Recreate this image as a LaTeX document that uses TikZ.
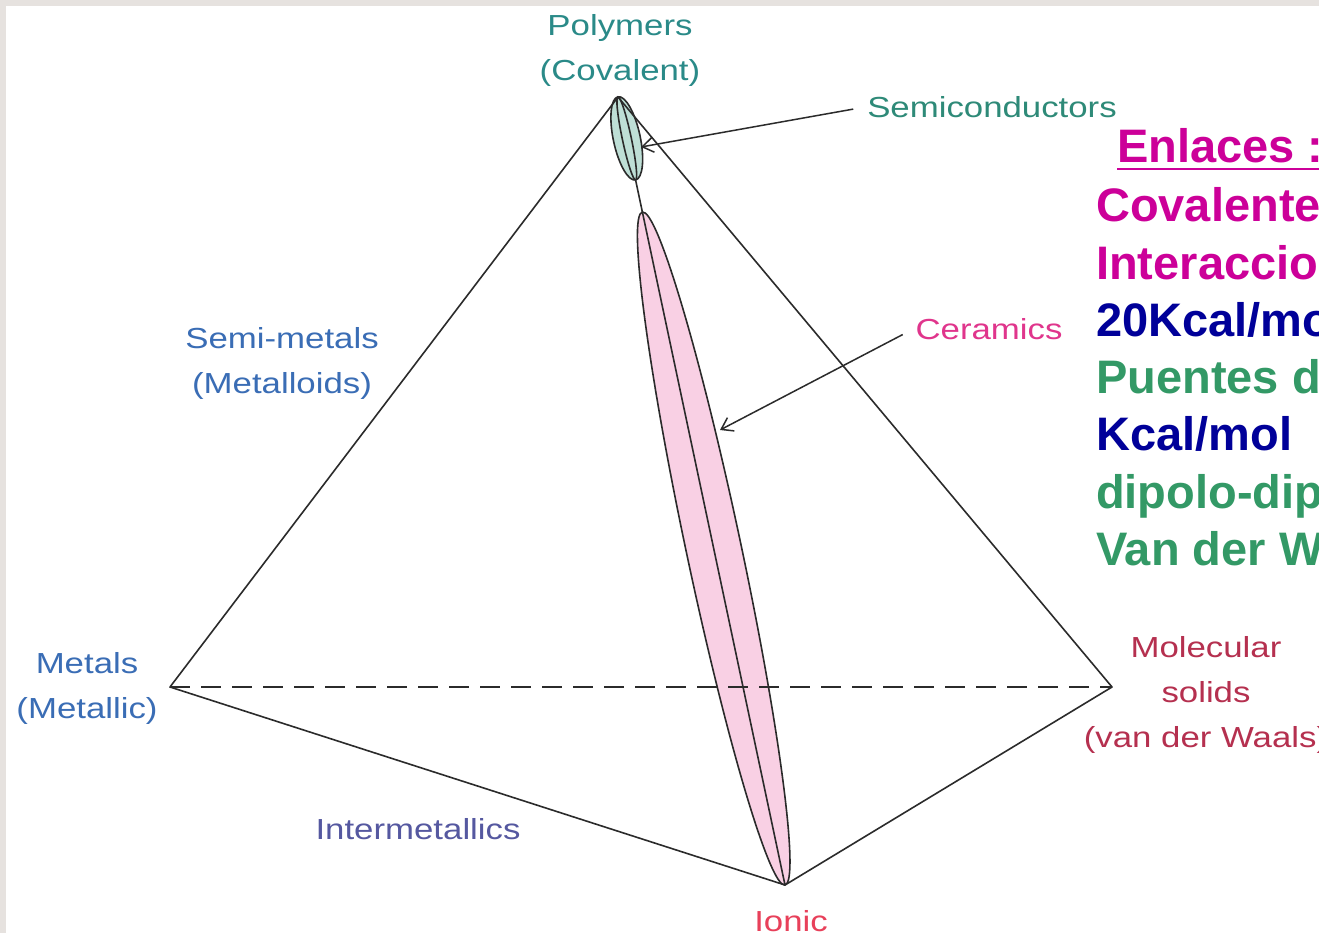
\documentclass[tikz,border=0pt]{standalone}
\usepackage{fontspec}
\usetikzlibrary{arrows.meta,calc}
\newfontfamily\labelfont[FakeStretch=1.2]{Liberation Sans}
\newfontfamily\enlfont{Liberation Sans}
\definecolor{bordergray}{HTML}{E6E2DF}
\definecolor{edgegray}{HTML}{2B2B2B}
\definecolor{semfill}{HTML}{BEDFD6}
\definecolor{cerfill}{HTML}{F9D0E4}
\definecolor{polycol}{HTML}{2A8A88}
\definecolor{semcol}{HTML}{2E8A78}
\definecolor{metcol}{HTML}{3A6DB5}
\definecolor{intcol}{HTML}{5558A0}
\definecolor{molcol}{HTML}{B5304F}
\definecolor{ioncol}{HTML}{E8405A}
\definecolor{cercol}{HTML}{E0358C}
\definecolor{enlmag}{HTML}{CC0099}
\definecolor{enlblue}{HTML}{000099}
\definecolor{enlgreen}{HTML}{339966}
\tikzset{
	edge/.style={draw=edgegray, line width=1.6pt},
	hidden/.style={edge, dash pattern=on 20pt off 11pt},
	lens/.style={draw=edgegray, line width=1.6pt},
	pointer/.style={draw=edgegray, line width=1.5pt, -{Straight Barb[length=11pt,width=15pt]}, shorten <=12pt},
	lbl/.style={font=\labelfont\fontsize{29}{45}\selectfont, align=center, inner sep=2pt},
	rtext/.style={font=\enlfont\bfseries\fontsize{47}{57}\selectfont, anchor=base west, inner sep=0pt}
}
\begin{document}
\begin{tikzpicture}[x=1pt,y=-1pt]
		
		\clip (0,0) rectangle (1319,933);
		\fill[white] (0,0) rectangle (1319,933);
		\fill[bordergray] (0,0) rectangle (1319,6);
		\fill[bordergray] (0,0) rectangle (6,933);
		
		% corners of the tetrahedron
		\coordinate (poly) at (618,97);
		\coordinate (metal) at (170,687);
		\coordinate (mol) at (1112,687);
		\coordinate (ionic) at (785,885);
		
		\coordinate (semc) at ($(poly)!0.0525!(ionic)$);
		\coordinate (semend) at ($(poly)!0.105!(ionic)$);
		\coordinate (cerc) at ($(poly)!0.573!(ionic)$);
		\coordinate (semtip) at (641,147);
		\coordinate (certip) at (720,430);
		
		% semiconductors lens
		\begin{scope}[shift={(semc)}, rotate=-78.03]
			\draw[lens, fill=semfill] (0,0) ellipse [x radius=42.5, y radius=13.5];
			\draw[lens] (-42.5,0) arc[start angle=180, end angle=0, x radius=42.5, y radius=4.5];
			\draw[lens] (-42.5,0) arc[start angle=180, end angle=360, x radius=42.5, y radius=4.5];
		\end{scope}
		
		% ceramics lens
		\begin{scope}[shift={(cerc)}, rotate=-78.03]
			\draw[lens, fill=cerfill] (0,0) ellipse [x radius=344, y radius=27.5];
		\end{scope}
		\draw[lens] (semend) -- (ionic);
		
		\draw[edge, line join=round] (metal) -- (poly) -- (mol) -- (ionic) -- cycle;
		\draw[hidden] (metal) -- (mol);
		
		\node[lbl, text=polycol] (polylbl) at (620,50) {Polymers\\(Covalent)};
		\node[lbl, text=semcol] (semlbl) at (992,107) {Semiconductors};
		\node[lbl, text=metcol] (semimet) at (282,363) {Semi-metals\\(Metalloids)};
		\node[lbl, text=metcol] (metlbl) at (87,688) {Metals\\(Metallic)};
		\node[lbl, text=intcol] (intlbl) at (418,829) {Intermetallics};
		\node[lbl, text=molcol] (mollbl) at (1206,695) {Molecular\\solids\\(van der Waals)};
		\node[lbl, text=ioncol] (ionlbl) at (791,921) {Ionic};
		\node[lbl, text=cercol] (cerlbl) at (989,329) {Ceramics};
		
		\draw[pointer] (semlbl.west) -- (semtip);
		\draw[pointer] (cerlbl.west) -- (certip);
		
		% bonds
		\node[rtext, text=enlmag] (enl) at (1117,163) {Enlaces :};
		\draw[enlmag, line width=2.5pt] ([yshift=-6pt]enl.base west) -- ([yshift=-6pt]enl.base east);
		\node[rtext, text=enlmag] (cov) at (1096,222) {Covalentes};
		\node[rtext, text=enlmag] (inter) at (1096,279.2) {Interacciones};
		\node[rtext, text=enlblue] (kcala) at (1096,336.4) {20Kcal/mol};
		\node[rtext, text=enlgreen] (puen) at (1096,393.6) {Puentes de};
		\node[rtext, text=enlblue] (kcalb) at (1096,450.8) {Kcal/mol};
		\node[rtext, text=enlgreen] (dip) at (1096,508) {dipolo-dipolo};
		\node[rtext, text=enlgreen] (vdw) at (1096,565.2) {Van der Waals};
		
\end{tikzpicture}
\end{document}
